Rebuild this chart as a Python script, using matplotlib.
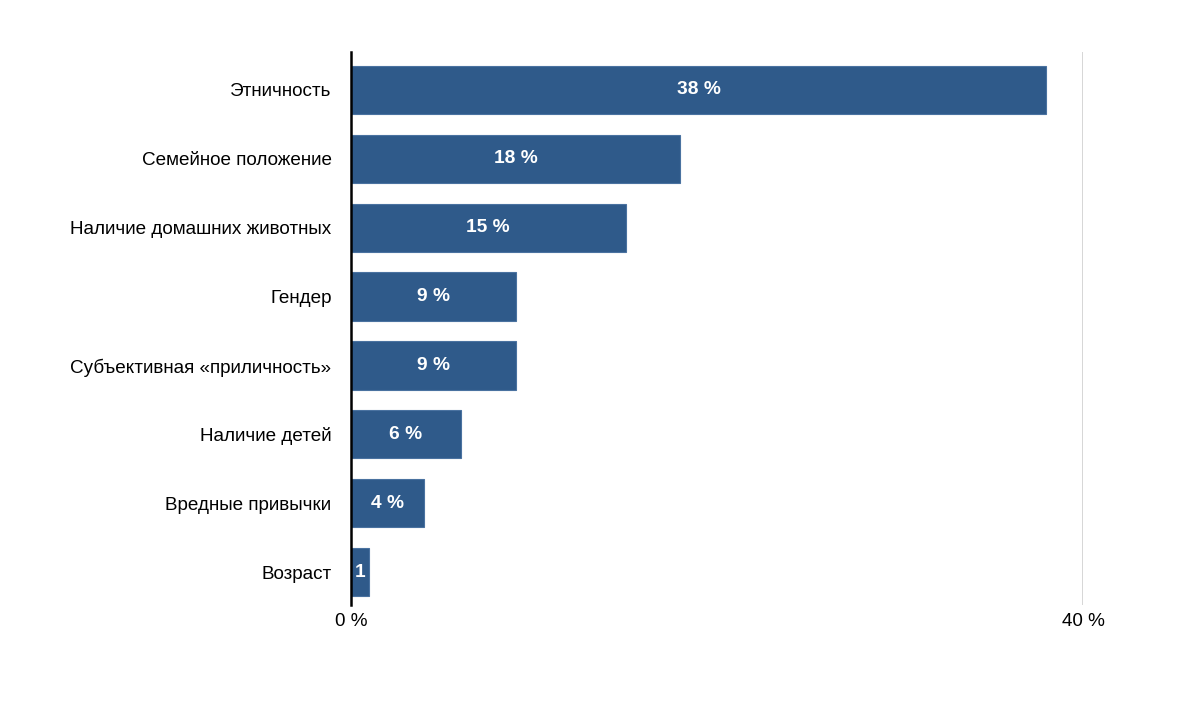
import matplotlib.pyplot as plt

categories = ["Этничность", "Семейное положение", "Наличие домашних животных",
              "Гендер", "Субъективная «приличность»", "Наличие детей",
              "Вредные привычки", "Возраст"]
values = [38, 18, 15, 9, 9, 6, 4, 1]
bar_labels = ["38 %", "18 %", "15 %", "9 %", "9 %", "6 %", "4 %", "1"]

plt.rcParams['font.family'] = ['Liberation Sans', 'DejaVu Sans']

fig = plt.figure(figsize=(12, 7.17), dpi=100)
ax = fig.add_axes([0.2925, 0.156, 0.61, 0.7715])

pos = list(range(len(categories)))
bars = ax.barh(pos, values, height=0.7, color="#2f5a8a", edgecolor="#4a72a0", linewidth=0.8)
ax.set_ylim(len(categories) - 0.52, -0.55)
ax.set_xlim(0, 40)

for b, lab in zip(bars, bar_labels):
    ax.text(b.get_width() / 2, b.get_y() + b.get_height() / 2, lab,
            ha="center", va="center", color="white", fontsize=13.8, fontweight="bold")

ax.set_yticks(pos)
ax.set_yticklabels(categories, fontsize=13.6)
ax.set_xticks([0, 40])
ax.set_xticklabels(["0 %", "40 %"], fontsize=13.6)
ax.tick_params(length=0, pad=14)
ax.tick_params(axis="x", pad=6)

ax.axvline(40, color="#d0d0d0", linewidth=1.2)
for s in ["top", "right", "bottom"]:
    ax.spines[s].set_visible(False)
ax.spines["left"].set_linewidth(1.8)
ax.spines["left"].set_zorder(5)

fig.savefig("out.png")
